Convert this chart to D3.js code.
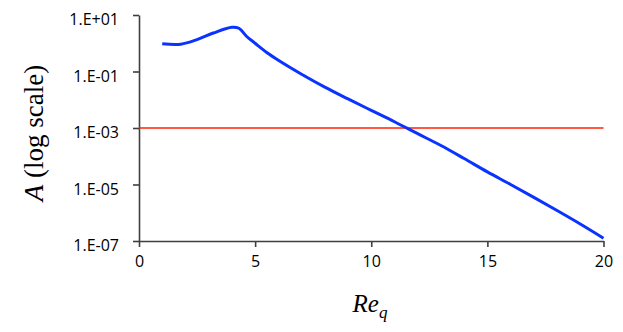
<!DOCTYPE html>
<html>
<head>
<meta charset="utf-8">
<script src="https://cdn.jsdelivr.net/npm/d3@7"></script>
<style>
  body { margin: 0; background: #fff; }
  svg { display: block; overflow: visible; }
</style>
</head>
<body>
<svg id="chart"></svg>
<script>
const reqValues = [1, 1.8, 2.5, 3.2, 4, 4.3, 4.65, 5, 5.5, 6, 7, 8, 9, 10, 11, 12, 13, 14, 15, 16, 17, 18, 19, 20];
const aValues = [0.96, 0.93, 1.35, 2.3, 3.7, 3.4, 1.7, 1.0, 0.47, 0.25, 0.08, 0.028, 0.0107, 0.0042, 0.00166,
    6.3e-4, 2.4e-4, 8.3e-5, 2.8e-5, 1.0e-5, 3.5e-6, 1.2e-6, 4.0e-7, 1.26e-7];
const thresholdValue = 1e-3;
const xTicks = [0, 5, 10, 15, 20];
const yTicks = [1e1, 1e-1, 1e-3, 1e-5, 1e-7];

const width = 623;
const height = 332;
const margin = { top: 15, left: 139 };
const innerWidth = 603.5 - margin.left;
const innerHeight = 241 - margin.top;

const svg = d3.select("#chart")
    .attr("width", width)
    .attr("height", height);

const g = svg.append("g")
    .attr("transform", `translate(${margin.left},${margin.top})`);

const xScale = d3.scaleLinear()
    .domain([0, 20])
    .range([0, innerWidth]);

const yScale = d3.scaleLog()
    .domain([1e-7, 1e1])
    .range([innerHeight, 0]);

const fmtExp = d => {
    const e = Math.round(Math.log10(d));
    return "1.E" + (e >= 0 ? "+" : "-") + String(Math.abs(e)).padStart(2, "0");
};

const axisColor = "#3f3f3f";
const tickFont = "'Open Sans', 'Noto Sans', sans-serif";

// y axis
const yAxis = g.append("g")
    .call(d3.axisLeft(yScale)
        .tickValues(yTicks)
        .tickFormat(fmtExp)
        .tickSize(6)
        .tickSizeOuter(0)
        .tickPadding(14));

// x axis
const xAxis = g.append("g")
    .attr("transform", `translate(0,${innerHeight})`)
    .call(d3.axisBottom(xScale)
        .tickValues(xTicks)
        .tickFormat(d3.format("d"))
        .tickSize(6)
        .tickSizeOuter(0)
        .tickPadding(9));

[yAxis, xAxis].forEach(ax => {
    ax.select(".domain").attr("stroke", axisColor).attr("stroke-width", 1.6);
    ax.selectAll(".tick line").attr("stroke", axisColor).attr("stroke-width", 1.6);
    ax.selectAll(".tick text")
        .attr("fill", "#000")
        .attr("font-family", tickFont)
        .attr("font-size", "16px");
});
yAxis.selectAll(".tick text").attr("dy", "0.6em");

// threshold line
g.append("line")
    .attr("x1", xScale(0))
    .attr("x2", xScale(20))
    .attr("y1", yScale(thresholdValue))
    .attr("y2", yScale(thresholdValue))
    .attr("stroke", "#ff2200")
    .attr("stroke-width", 1.6);

const series = reqValues.map((r, i) => ({ r: r, a: aValues[i] }));

const lineGenerator = d3.line()
    .x(d => xScale(d.r))
    .y(d => yScale(d.a))
    .curve(d3.curveCatmullRom.alpha(0.5));

g.append("path")
    .datum(series)
    .attr("fill", "none")
    .attr("stroke", "#0a33ff")
    .attr("stroke-width", 3)
    .attr("stroke-linejoin", "round")
    .attr("d", lineGenerator);

// axis titles
const yTitle = svg.append("text")
    .attr("transform", `translate(43,${(margin.top + 241) / 2 + 5}) rotate(-90)`)
    .attr("text-anchor", "middle")
    .attr("font-family", "'Liberation Serif', 'DejaVu Serif', serif")
    .attr("font-size", "27px")
    .attr("fill", "#000");
yTitle.append("tspan").attr("font-style", "italic").text("A");
yTitle.append("tspan").text(" (log scale)");

const xTitle = svg.append("text")
    .attr("x", 370)
    .attr("y", 312)
    .attr("text-anchor", "middle")
    .attr("font-family", "'Liberation Serif', 'DejaVu Serif', serif")
    .attr("font-style", "italic")
    .attr("font-size", "25px")
    .attr("fill", "#000");
xTitle.append("tspan").text("Re");
xTitle.append("tspan").attr("font-size", "17px").attr("dy", "6").text("q");
</script>
</body>
</html>
